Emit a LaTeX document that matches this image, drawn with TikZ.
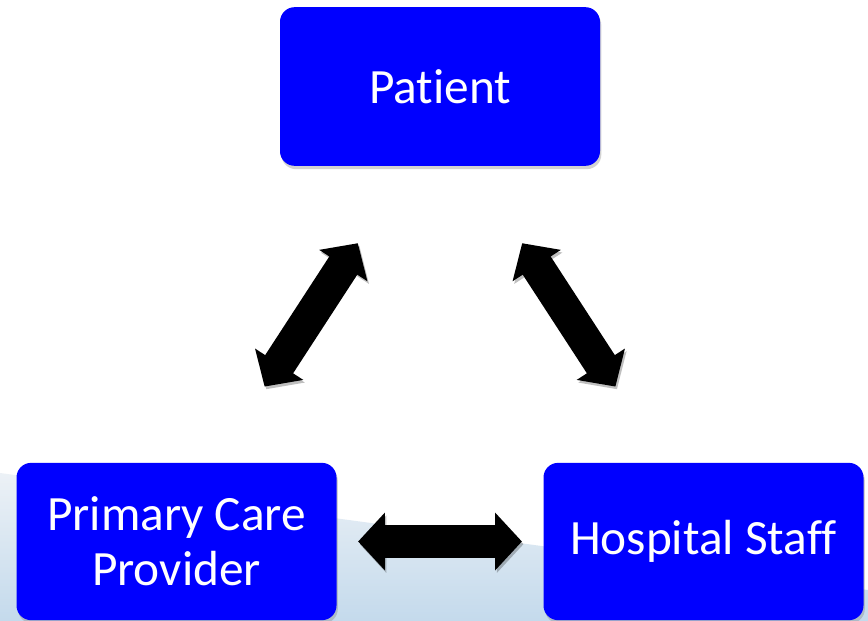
\documentclass[tikz,border=0pt]{standalone}
\usepackage{fontspec}
\setmainfont{Carlito}[Ligatures=NoCommon]
\definecolor{boxblue}{RGB}{0, 0, 255}
\definecolor{swooshtop}{RGB}{236, 241, 246}
\definecolor{swooshbot}{RGB}{196, 218, 236}
\usetikzlibrary{arrows.meta, positioning, calc, shadows}

\begin{document}
\begin{tikzpicture}[x=0.75pt, y=-0.75pt,
  box/.style={rounded corners=11pt, fill=boxblue, text=white, align=center,
    minimum width=240pt, minimum height=118pt, inner sep=2pt,
    font=\fontsize{37}{41}\selectfont,
    drop shadow={shadow xshift=1pt, shadow yshift=-2.5pt, opacity=0.35}},
  biarrow/.style={line width=25pt,
    {Triangle[length=20pt, width=42pt]}-{Triangle[length=20pt, width=42pt]},
    preaction={draw=black, opacity=0.25,
      transform canvas={shift={(1.2pt,-2pt)}}}},
]
  \useasboundingbox (0,0) rectangle (868,621);
  % Background
  \fill[white] (0,0) rectangle (868,621);
  \shade[top color=swooshtop, bottom color=swooshbot]
    (0,473) -- (868,590) -- (868,621) -- (0,621) -- cycle;
  % Boxes
  \node[box, minimum height=119pt] (pat) at (440,86.5) {Patient};
  \node[box] (pcp) at (176.5,541.5) {Primary Care\\Provider};
  \node[box] (hs)  at (703.5,541.5) {Hospital Staff};
  % Arrows
  \draw[biarrow, shorten <=69pt, shorten >=68pt]
    ([xshift=-24pt]pat.south) -- ([xshift=29pt]pcp.north);
  \draw[biarrow, shorten <=69pt, shorten >=68pt]
    ([xshift=24pt]pat.south) -- ([xshift=-29pt]hs.north);
  \draw[biarrow, shorten <=16pt, shorten >=16pt] (pcp) -- (hs);
\end{tikzpicture}
\end{document}
